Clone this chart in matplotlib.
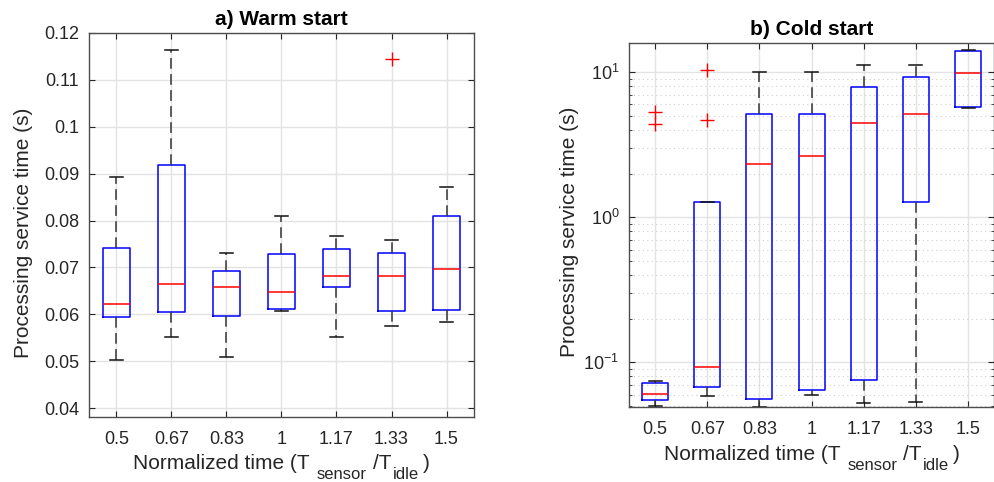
import matplotlib
matplotlib.use("Agg")
import matplotlib.pyplot as plt
import matplotlib.transforms as mtransforms
import numpy as np
from matplotlib.ticker import LogLocator, NullFormatter

plt.rcParams['font.family'] = ['Liberation Sans', 'DejaVu Sans']
plt.rcParams['mathtext.fontset'] = 'custom'
plt.rcParams['mathtext.rm'] = 'Liberation Sans'
plt.rcParams['mathtext.it'] = 'Liberation Sans'

categories = ["0.5", "0.67", "0.83", "1", "1.17", "1.33", "1.5"]

# Warm start box statistics (s)
warm_lower = [0.0502, 0.0552, 0.0509, 0.0607, 0.0551, 0.0575, 0.0584]
warm_q1 = [0.0595, 0.0605, 0.0596, 0.0611, 0.0659, 0.0607, 0.0610]
warm_median = [0.0622, 0.0665, 0.0659, 0.0647, 0.0681, 0.0681, 0.0696]
warm_q3 = [0.0741, 0.0919, 0.0693, 0.0729, 0.0739, 0.0730, 0.0810]
warm_upper = [0.0893, 0.1163, 0.0730, 0.0809, 0.0767, 0.0759, 0.0872]
warm_outliers = [[], [], [], [], [], [0.1144], []]

# Cold start box statistics (s)
cold_lower = [0.0504, 0.0587, 0.0493, 0.0593, 0.0523, 0.0536, 5.65]
cold_q1 = [0.0551, 0.0676, 0.0562, 0.0648, 0.0760, 1.27, 5.74]
cold_median = [0.0603, 0.0933, 2.34, 2.63, 4.50, 5.12, 9.9]
cold_q3 = [0.0717, 1.27, 5.12, 5.19, 7.88, 9.24, 14.0]
cold_upper = [0.0744, 1.27, 10.0, 10.0, 11.3, 11.3, 14.3]
cold_outliers = [[5.33, 4.41], [10.4, 4.72], [], [], [], [], []]


def make_stats(lo, q1, med, q3, hi, fl):
    return [dict(whislo=a, q1=b, med=c, q3=d, whishi=e, fliers=f, label=lab)
            for a, b, c, d, e, f, lab in zip(lo, q1, med, q3, hi, fl, categories)]


W, H = 995, 482
fig = plt.figure(figsize=(W / 100, H / 100), dpi=100)
ax1 = fig.add_axes([0.0894, 0.1349, 0.387, 0.7967])
ax2 = fig.add_axes([0.6322, 0.1556, 0.367, 0.7552])

box_kw = dict(
    positions=np.arange(1, len(categories) + 1),
    widths=0.5,
    capwidths=0.25,
    boxprops=dict(color='#0000ff', linewidth=1.1),
    medianprops=dict(color='#ff0000', linewidth=1.1),
    whiskerprops=dict(color='#333333', linewidth=1.1, linestyle=(0, (7, 3.5))),
    capprops=dict(color='#111111', linewidth=1.1),
    flierprops=dict(marker='+', markeredgecolor='#ff0000', markersize=10,
                    markeredgewidth=1.0, linestyle='none'),
    showfliers=True,
    manage_ticks=False,
)

ax1.bxp(make_stats(warm_lower, warm_q1, warm_median, warm_q3, warm_upper, warm_outliers), **box_kw)
ax2.bxp(make_stats(cold_lower, cold_q1, cold_median, cold_q3, cold_upper, cold_outliers), **box_kw)

TXT = '#262626'
for ax in (ax1, ax2):
    ax.set_xlim(0.5, len(categories) + 0.5)
    ax.set_xticks(np.arange(1, len(categories) + 1))
    ax.set_xticklabels(categories)
    ax.tick_params(axis='both', which='both', direction='in', top=True, right=True,
                   labelsize=13, colors=TXT)
    ax.tick_params(axis='x', which='major', pad=10)
    ax.tick_params(axis='y', which='both', pad=7)
    ax.tick_params(axis='both', which='major', length=4)
    ax.tick_params(axis='both', which='minor', length=2.5)
    for s in ax.spines.values():
        s.set_color('#4d4d4d')
        s.set_linewidth(1.0)
    ax.grid(True, which='major', color='#e3e3e3', linewidth=1.0)
    ax.set_axisbelow(True)
    ax.set_ylabel('Processing service time (s)', fontsize=15, color=TXT)
    ax.yaxis.label.set_verticalalignment('center')

ax1.yaxis.set_label_coords(-0.169, 0.48)
ax2.yaxis.set_label_coords(-0.162, 0.48)

ax1.set_ylim(0.0381, 0.12)
ax1.set_yticks([0.04, 0.05, 0.06, 0.07, 0.08, 0.09, 0.10, 0.11, 0.12])
ax1.set_yticklabels(['0.04', '0.05', '0.06', '0.07', '0.08', '0.09', '0.1', '0.11', '0.12'])
ax1.set_title('a) Warm start', fontsize=15, fontweight='bold', pad=6)

ax2.set_yscale('log')
ax2.set_ylim(0.0493, 15.9)
ax2.yaxis.set_minor_locator(LogLocator(base=10, subs=np.arange(2, 10)))
ax2.yaxis.set_minor_formatter(NullFormatter())
ax2.grid(True, which='minor', axis='y', color='#cfcfcf', linewidth=0.8, linestyle=(0, (1, 3)))
ax2.set_title('b) Cold start', fontsize=15, fontweight='bold', pad=6)

# x-label with MATLAB-like subscripts, built piece by piece in pixel coordinates
renderer = fig.canvas.get_renderer()
ident = mtransforms.IdentityTransform()
# (text, fontsize, baseline drop px, gap before px)
xlabel_parts = [("Normalized time (T", 15, 0, 0),
                ("sensor", 12, 10, 7),
                ("/T", 15, 0, 6),
                ("idle", 12, 10, 1),
                (")", 15, 0, 4)]


def draw_xlabel(ax, baseline_px_from_top):
    texts, widths = [], []
    for s, fs, drop, gap in xlabel_parts:
        t = fig.text(0, 0, s, fontsize=fs, color=TXT, transform=ident,
                     ha='left', va='baseline')
        widths.append(t.get_window_extent(renderer).width)
        texts.append(t)
    total = sum(widths) + sum(p[3] for p in xlabel_parts)
    bb = ax.get_position()
    cx = (bb.x0 + bb.x1) / 2 * W
    x = cx - total / 2
    base = H - baseline_px_from_top
    for t, w, (s, fs, drop, gap) in zip(texts, widths, xlabel_parts):
        x += gap
        t.set_position((x, base - drop))
        x += w


draw_xlabel(ax1, 469)
draw_xlabel(ax2, 460)

fig.savefig('out.png', dpi=100)
